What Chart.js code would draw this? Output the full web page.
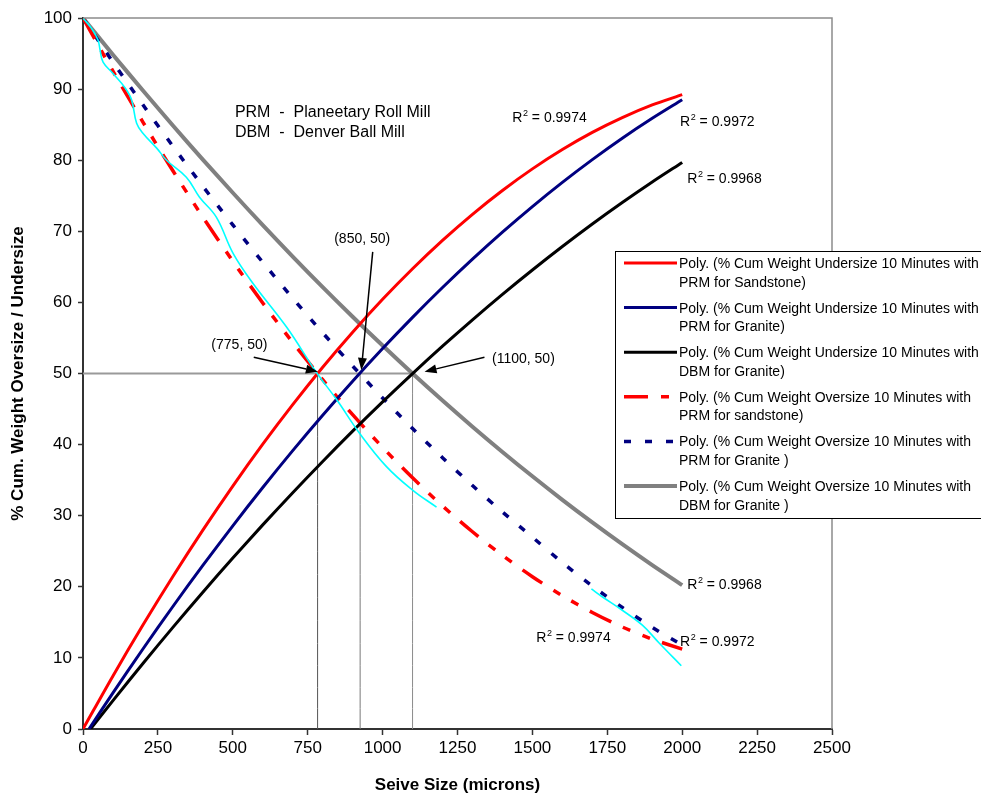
<!DOCTYPE html>
<html>
<head>
<meta charset="utf-8">
<script src="https://cdn.jsdelivr.net/npm/chart.js@4.4.0/dist/chart.umd.min.js"></script>
<style>
html,body{margin:0;padding:0;background:#fff}
#wrap{width:981px;height:796px;position:relative}
</style>
</head>
<body>
<div id="wrap"><canvas id="c" width="981" height="796"></canvas></div>
<script>
/* ===== data ===== */
const sizes=[0,100,200,300,400,500,600,700,800,900,1000,1100,1200,1300,1400,1500,1600,1700,1800,1900,2000];
const sizesPrmGranite=[20,100,200,300,400,500,600,700,800,900,1000,1100,1200,1300,1400,1500,1600,1700,1800,1900,2000];
const sizesDbmGranite=[25,100,200,300,400,500,600,700,800,900,1000,1100,1200,1300,1400,1500,1600,1700,1800,1900,2000];

const underPrmSand=[0,7.47,14.62,21.45,27.97,34.17,40.06,45.62,50.88,55.81,60.43,64.73,68.72,72.39,75.74,78.78,81.50,83.91,85.99,87.77,89.22];
const underPrmGranite=[0,5.08,11.25,17.23,23.00,28.58,33.96,39.15,44.13,48.92,53.51,57.90,62.09,66.08,69.88,73.48,76.88,80.08,83.09,85.89,88.50];
const underDbmGranite=[0,4.00,9.22,14.29,19.24,24.04,28.71,33.24,37.63,41.89,46.01,49.99,53.84,57.55,61.13,64.56,67.86,71.03,74.05,76.94,79.69];
const overPrmSand=[100,92.52,85.36,78.52,72.00,65.80,59.92,54.37,49.13,44.21,39.61,35.33,31.37,27.74,24.42,21.42,18.75,16.39,14.35,12.64,11.24];
const overPrmGranite=[100,93.80,87.79,81.97,76.34,70.90,65.65,60.59,55.73,51.05,46.56,42.26,38.16,34.24,30.52,26.98,23.40,20.10,17.10,14.30,11.80];
const overDbmGranite=[100,94.84,89.80,84.88,80.09,75.42,70.87,66.45,62.15,57.98,53.93,50.00,46.20,42.52,38.97,35.54,32.23,29.05,25.99,23.05,20.24];

// thin cyan measured curve (gap in the middle)
const rawX=[0,29,50,57,67,100,140,162,179,200,246,279,345,389,445,501,567,680,780,847,923,1013,1100,1180,1400,1697,1733,1800,1867,1923,1997];
const rawY=[100,98.5,96.9,95.5,93.8,92.2,90.2,88.5,85.2,83.8,81.7,80.0,77.6,74.8,72.0,66.9,62.7,56.5,50.1,46.3,41.6,36.9,33.6,31.2,null,19.7,18.6,16.7,14.6,12.1,8.9];

// 50 % guide lines
const guideLevel=50;
const guideX=[783,925,1100];
const guideColors=['#555555','#7a7a7a','#8a8a8a'];

const xTicks=[0,250,500,750,1000,1250,1500,1750,2000,2250,2500];
const yTicks=[0,10,20,30,40,50,60,70,80,90,100];

const legendLabels=[
  ['Poly. (% Cum Weight Undersize 10 Minutes with','PRM for Sandstone)'],
  ['Poly. (% Cum Weight Undersize 10 Minutes with','PRM for Granite)'],
  ['Poly. (% Cum Weight Undersize 10 Minutes with','DBM for Granite)'],
  ['Poly. (% Cum Weight Oversize 10 Minutes with','PRM for sandstone)'],
  ['Poly. (% Cum Weight Oversize 10 Minutes with','PRM for Granite )'],
  ['Poly. (% Cum Weight Oversize 10 Minutes with','DBM for Granite )']
];

// R² labels: [x, y, value]
const r2Labels=[[1433,85.4,'0.9974'],[1993,84.8,'0.9972'],[2017,76.8,'0.9968'],[2017,19.7,'0.9968'],[1513,12.2,'0.9974'],[1993,11.7,'0.9972']];
// point callouts: text, text x/y, arrow start x/y, arrow tip x/y
const callouts=[
  ['(775, 50)',522,53.4,570,52.3,784,50.25],
  ['(850, 50)',932,68.4,967,67.1,929,50.5],
  ['(1100, 50)',1470,51.5,1340,52.3,1140,50.25]
];
const notes=[['PRM  -  Planeetary Roll Mill',507,86.1],['DBM  -  Denver Ball Mill',507,83.3]];

/* ===== chart ===== */
const FONT='"Liberation Sans", Arial, sans-serif';
Chart.defaults.font.family=FONT;
Chart.defaults.color='#000';

const line=(label,xs,ys,color,width,dash,order)=>({
  label,data:xs.map((x,i)=>({x,y:ys[i]})),
  borderColor:color,backgroundColor:color,borderWidth:width,borderDash:dash||[],
  showLine:true,pointRadius:0,tension:0.3,fill:false,spanGaps:false,order
});

const DASH_RED=[24,13,8,13,8,13];
const DASH_BLUE=[7,14];
const curves=[
  line(legendLabels[0].join(' '),sizes,underPrmSand,'#ff0000',3,null,2),
  line(legendLabels[1].join(' '),sizesPrmGranite,underPrmGranite,'#000080',3,null,2),
  line(legendLabels[2].join(' '),sizesDbmGranite,underDbmGranite,'#000000',3,null,2),
  line(legendLabels[3].join(' '),sizes,overPrmSand,'#ff0000',3.5,DASH_RED,2),
  line(legendLabels[4].join(' '),sizes,overPrmGranite,'#000080',3.5,DASH_BLUE,2),
  line(legendLabels[5].join(' '),sizes,overDbmGranite,'#808080',4,null,3)
];
const raw=line('raw',rawX,rawY,'#00ffff',1.6,null,1);
raw.tension=0.4;

const guides=[line('guide',[0,guideX[2]],[guideLevel,guideLevel],'#9a9a9a',2,null,9)];
guideX.forEach((x,i)=>guides.push(line('guide',[x,x],[0,guideLevel],guideColors[i],1,null,9)));

function arrow(ctx,x1,y1,x2,y2){
  const a=Math.atan2(y2-y1,x2-x1),L=12,W=4.5;
  const bx=x2-L*Math.cos(a),by=y2-L*Math.sin(a);
  ctx.beginPath();ctx.moveTo(x1,y1);ctx.lineTo(bx,by);ctx.stroke();
  ctx.beginPath();ctx.moveTo(x2,y2);
  ctx.lineTo(bx+W*Math.sin(a),by-W*Math.cos(a));
  ctx.lineTo(bx-W*Math.sin(a),by+W*Math.cos(a));
  ctx.closePath();ctx.fill();
}

const overlay={
  id:'overlay',
  afterDatasetsDraw(chart){
    const {ctx,scales:{x,y}}=chart;
    ctx.save();
    ctx.fillStyle='#000';ctx.strokeStyle='#000';ctx.lineWidth=1.5;
    ctx.textBaseline='alphabetic';
    // callouts
    ctx.font='14px '+FONT;ctx.textAlign='center';
    callouts.forEach(c=>{
      ctx.fillText(c[0],x.getPixelForValue(c[1]),y.getPixelForValue(c[2]));
      arrow(ctx,x.getPixelForValue(c[3]),y.getPixelForValue(c[4]),x.getPixelForValue(c[5]),y.getPixelForValue(c[6]));
    });
    // mill notes
    ctx.font='16px '+FONT;ctx.textAlign='left';
    notes.forEach(n=>ctx.fillText(n[0],x.getPixelForValue(n[1]),y.getPixelForValue(n[2])));
    // R² labels
    r2Labels.forEach(r=>{
      let px=x.getPixelForValue(r[0]);const py=y.getPixelForValue(r[1]);
      ctx.font='14px '+FONT;ctx.fillText('R',px,py);px+=ctx.measureText('R').width;
      ctx.font='9px '+FONT;ctx.fillText('2',px+0.5,py-6);px+=ctx.measureText('2').width+0.5;
      ctx.font='14px '+FONT;ctx.fillText(' = '+r[2],px,py);
    });
    ctx.restore();
  },
  afterDraw(chart){
    const {ctx,chartArea:a}=chart;
    ctx.save();
    // top/right frame
    ctx.strokeStyle='#8c8c8c';ctx.lineWidth=1.5;
    ctx.beginPath();ctx.moveTo(a.left,a.top);ctx.lineTo(a.right,a.top);ctx.lineTo(a.right,a.bottom);ctx.stroke();
    // legend box
    const lx=615,ly=251,lw=380,lh=267;
    ctx.fillStyle='#fff';ctx.fillRect(lx,ly,lw,lh);
    ctx.strokeStyle='#000';ctx.lineWidth=1;ctx.strokeRect(lx+0.5,ly+0.5,lw,lh);
    ctx.font='14px '+FONT;ctx.textAlign='left';ctx.textBaseline='alphabetic';
    curves.forEach((d,i)=>{
      const sy=263+i*44.6;
      ctx.strokeStyle=d.borderColor;ctx.lineWidth=d.borderWidth;ctx.setLineDash(d.borderDash);
      ctx.beginPath();ctx.moveTo(624,sy);ctx.lineTo(677,sy);ctx.stroke();
      ctx.setLineDash([]);
      ctx.fillStyle='#000';
      ctx.fillText(legendLabels[i][0],679,sy+5);
      ctx.fillText(legendLabels[i][1],679,sy+23.5);
    });
    ctx.restore();
  }
};

new Chart(document.getElementById('c'),{
  type:'scatter',
  data:{datasets:[...curves,raw,...guides]},
  options:{
    responsive:false,animation:false,devicePixelRatio:1,
    layout:{padding:{top:18,right:149,left:0,bottom:0}},
    plugins:{legend:{display:false},tooltip:{enabled:false}},
    scales:{
      x:{type:'linear',min:0,max:2500,
        afterBuildTicks:s=>{s.ticks=xTicks.map(v=>({value:v}));},
        ticks:{font:{size:17},color:'#000',padding:3,maxRotation:0,autoSkip:false,callback:v=>String(v)},
        grid:{drawOnChartArea:false,tickLength:6,tickColor:'#333',tickWidth:1.5},
        border:{color:'#333',width:2},
        title:{display:true,text:'Seive Size (microns)',font:{size:17,weight:'bold'},color:'#000',padding:{top:0,bottom:0}},
        afterFit:s=>{s.height=67;}
      },
      y:{min:0,max:100,
        afterBuildTicks:s=>{s.ticks=yTicks.map(v=>({value:v}));},
        ticks:{font:{size:17},color:'#000',padding:6,callback:v=>String(v)},
        grid:{drawOnChartArea:false,tickLength:5,tickColor:'#333',tickWidth:1.5},
        border:{color:'#333',width:2},
        title:{display:true,text:'% Cum. Weight Oversize / Undersize',font:{size:17,weight:'bold'},color:'#000',padding:{top:8,bottom:0}},
        afterFit:s=>{s.width=83;}
      }
    }
  },
  plugins:[overlay]
});
</script>
</body>
</html>
